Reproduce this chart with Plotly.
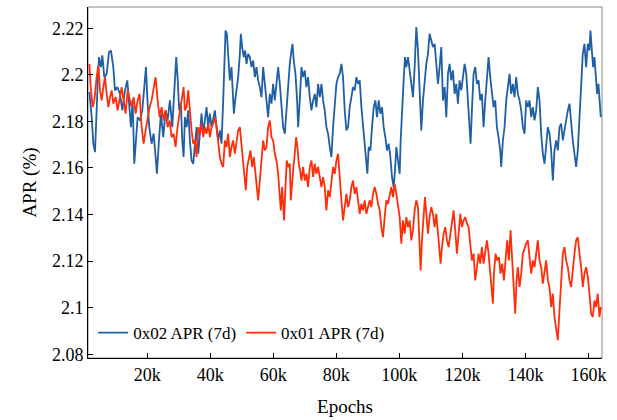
import plotly.graph_objects as go

# ---- data (epochs in thousands, APR in %) ----
blue_x = [1.63, 2.37, 2.89, 3.42, 4.27, 4.69, 5.32, 5.75, 6.38, 7.12, 7.86, 8.49, 9.23, 9.76, 10.50, 11.35,
          12.09, 12.93, 13.67, 14.31, 14.83, 15.36, 15.89, 16.42, 16.95, 17.69, 18.42, 19.06, 19.59, 20.12,
          20.64, 21.38, 22.02, 22.65, 23.07, 23.71, 24.34, 25.08, 25.82, 26.45, 27.19, 27.93, 28.57, 29.20,
          29.62, 30.15, 30.68, 31.10, 31.53, 31.95, 32.48, 33.01, 33.53, 34.06, 34.59, 35.12, 35.65, 36.18,
          36.70, 37.23, 37.76, 38.29, 38.82, 39.34, 39.87, 40.40, 40.93, 41.46, 41.99, 42.51, 43.04, 43.57,
          44.10, 44.42, 44.84, 45.26, 45.68, 46.21, 46.74, 47.06, 47.48, 47.90, 48.33, 48.85, 49.38, 49.70,
          50.12, 50.65, 51.07, 51.50, 52.02, 52.55, 53.08, 53.61, 54.14, 54.66, 55.19, 55.72, 56.25, 56.78,
          57.31, 57.83, 58.36, 58.89, 59.42, 59.95, 60.48, 61.00, 61.53, 62.06, 62.59, 63.12, 63.65, 64.17,
          64.70, 65.23, 65.76, 66.08, 66.50, 67.03, 67.55, 67.87, 68.40, 68.93, 69.46, 69.98, 70.51, 71.04,
          71.57, 72.10, 72.63, 73.15, 73.68, 74.21, 74.74, 75.27, 75.79, 76.32, 76.85, 77.38, 77.91, 78.44,
          78.96, 79.49, 80.02, 80.55, 81.08, 81.61, 82.13, 82.66, 83.19, 83.72, 84.25, 84.77, 85.30, 85.83,
          86.36, 86.89, 87.42, 87.95, 88.47, 89.00, 89.53, 89.85, 90.27, 90.80, 91.33, 91.85, 92.38, 92.91,
          93.44, 93.97, 94.50, 95.02, 95.55, 96.08, 96.61, 97.14, 97.67, 98.19, 98.62, 99.04, 99.57, 100.10,
          100.41, 100.83, 101.36, 101.79, 102.21, 102.74, 103.27, 103.79, 104.32, 104.85, 105.38, 105.91,
          106.43, 106.96, 107.49, 108.02, 108.55, 109.08, 109.60, 110.13, 110.66, 111.19, 111.72, 112.25,
          112.77, 113.30, 113.83, 114.36, 114.89, 115.42, 115.94, 116.47, 117.00, 117.53, 118.06, 118.59,
          119.11, 119.64, 120.17, 120.70, 121.23, 121.76, 122.28, 122.60, 123.02, 123.55, 124.08, 124.61,
          125.14, 125.66, 126.19, 126.72, 127.25, 127.78, 128.31, 128.83, 129.36, 129.89, 130.42, 130.95,
          131.47, 132.00, 132.32, 132.85, 133.38, 133.91, 134.43, 134.96, 135.49, 136.02, 136.55, 137.07,
          137.60, 138.13, 138.66, 139.19, 139.72, 140.24, 140.77, 141.30, 141.83, 142.36, 142.89, 143.41,
          143.94, 144.47, 145.00, 145.53, 146.06, 146.58, 147.11, 147.64, 148.17, 148.70, 149.22, 149.75,
          150.28, 150.81, 151.34, 151.87, 152.39, 152.92, 153.45, 153.98, 154.51, 155.03, 155.56, 156.09,
          156.62, 157.15, 157.68, 158.20, 158.73, 159.26, 159.79, 160.32, 160.63, 161.06, 161.48, 161.90,
          162.32, 162.75, 163.17, 163.59, 163.91]
blue_y = [2.1926, 2.1818, 2.1704, 2.1668, 2.1961, 2.2076, 2.2033, 2.2083, 2.1990, 2.2004, 2.2097, 2.2104,
          2.2033, 2.1933, 2.1947, 2.1918, 2.1847, 2.1933, 2.1976, 2.1847, 2.1775, 2.1890, 2.1618, 2.1718,
          2.1818, 2.1804, 2.1847, 2.1947, 2.2033, 2.1876, 2.1775, 2.1704, 2.1747, 2.1647, 2.1575, 2.1718,
          2.1833, 2.1732, 2.1847, 2.1804, 2.1890, 2.1775, 2.1918, 2.2076, 2.1990, 2.1847, 2.1876, 2.1718,
          2.1647, 2.1818, 2.1775, 2.1847, 2.1718, 2.1632, 2.1618, 2.1718, 2.1775, 2.1661, 2.1747, 2.1833,
          2.1747, 2.1818, 2.1861, 2.1775, 2.1833, 2.1775, 2.1818, 2.1847, 2.1775, 2.1718, 2.1761, 2.1704,
          2.1890, 2.2033, 2.2190, 2.2176, 2.2090, 2.1976, 2.2033, 2.1918, 2.1833, 2.1890, 2.1933, 2.1990,
          2.2090, 2.2176, 2.2119, 2.2076, 2.2104, 2.2047, 2.2090, 2.2076, 2.2033, 2.2061, 2.1990, 2.2033,
          2.1976, 2.1947, 2.1904, 2.2033, 2.1961, 2.1890, 2.1818, 2.1918, 2.1876, 2.1961, 2.1890, 2.1961,
          2.2033, 2.1961, 2.1847, 2.1775, 2.1747, 2.1847, 2.1990, 2.2047, 2.2104, 2.2133, 2.2061, 2.2004,
          2.1890, 2.1775, 2.1890, 2.2033, 2.1990, 2.2019, 2.1947, 2.1990, 2.1904, 2.1847, 2.1890, 2.1918,
          2.1861, 2.1961, 2.1904, 2.1961, 2.1890, 2.1847, 2.1775, 2.1747, 2.1690, 2.1647, 2.1775, 2.1890,
          2.1961, 2.1990, 2.2004, 2.2047, 2.1990, 2.1847, 2.1761, 2.1775, 2.1861, 2.1904, 2.1947, 2.1933,
          2.1990, 2.1961, 2.1976, 2.1861, 2.1775, 2.1690, 2.1632, 2.1575, 2.1690, 2.1675, 2.1775, 2.1861,
          2.1890, 2.1818, 2.1890, 2.1833, 2.1861, 2.1775, 2.1732, 2.1675, 2.1704, 2.1647, 2.1561, 2.1518,
          2.1589, 2.1690, 2.1632, 2.1575, 2.1718, 2.1861, 2.1976, 2.2076, 2.2033, 2.2076, 2.2019, 2.1961,
          2.1904, 2.2033, 2.2205, 2.2104, 2.1961, 2.1761, 2.1890, 2.1976, 2.2047, 2.2090, 2.2176, 2.2147,
          2.2119, 2.2133, 2.2061, 2.1961, 2.2033, 2.2119, 2.1890, 2.1947, 2.1818, 2.2004, 2.2047, 2.1976,
          2.2019, 2.1918, 2.1961, 2.1876, 2.1976, 2.1933, 2.1990, 2.2047, 2.2004, 2.1904, 2.1775, 2.1704,
          2.1847, 2.2004, 2.2033, 2.1961, 2.1976, 2.1890, 2.1918, 2.1775, 2.1890, 2.2004, 2.2076, 2.1990,
          2.1933, 2.1861, 2.1890, 2.1775, 2.1732, 2.1675, 2.1604, 2.1718, 2.1775, 2.1890, 2.1947, 2.2004,
          2.1918, 2.1961, 2.1904, 2.1990, 2.1918, 2.1890, 2.1847, 2.1775, 2.1747, 2.1890, 2.1861, 2.1890,
          2.1818, 2.1861, 2.1804, 2.1847, 2.1947, 2.1890, 2.1747, 2.1661, 2.1618, 2.1718, 2.1775, 2.1747,
          2.1675, 2.1546, 2.1675, 2.1718, 2.1675, 2.1775, 2.1790, 2.1718, 2.1761, 2.1818, 2.1847, 2.1876,
          2.1790, 2.1718, 2.1661, 2.1604, 2.1675, 2.1818, 2.1961, 2.2090, 2.2133, 2.2033, 2.2133, 2.2104,
          2.2190, 2.2119, 2.2033, 2.2076, 2.1990, 2.1918, 2.1961, 2.1890, 2.1818]

red_x = [1.63, 2.05, 2.68, 3.21, 3.95, 4.48, 5.01, 5.54, 6.06, 6.59, 7.12, 7.65, 8.18, 8.71, 9.23, 9.97,
         10.61, 11.24, 11.87, 12.51, 13.14, 13.78, 14.41, 15.04, 15.68, 16.31, 16.95, 17.58, 18.21, 18.85,
         19.48, 20.12, 20.75, 21.38, 22.02, 22.65, 23.29, 23.92, 24.55, 25.19, 25.82, 26.45, 27.09, 27.72,
         28.36, 28.99, 29.62, 30.26, 30.89, 31.53, 31.95, 32.48, 33.01, 33.53, 34.06, 34.59, 35.12, 35.65,
         36.18, 36.70, 37.23, 37.76, 38.29, 38.82, 39.34, 39.87, 40.40, 40.93, 41.46, 41.99, 42.51, 43.04,
         43.57, 44.10, 44.63, 45.16, 45.68, 46.21, 46.74, 47.27, 47.80, 48.33, 48.85, 49.38, 49.91, 50.44,
         50.97, 51.28, 51.71, 52.23, 52.76, 53.29, 53.82, 54.35, 54.88, 55.19, 55.72, 56.25, 56.78, 57.31,
         57.83, 58.36, 58.89, 59.42, 59.95, 60.48, 61.00, 61.53, 62.06, 62.38, 62.80, 63.22, 63.43, 63.86,
         64.28, 64.70, 65.23, 65.55, 65.97, 66.39, 66.81, 67.24, 67.66, 68.08, 68.50, 68.93, 69.46, 69.98,
         70.51, 71.04, 71.57, 72.10, 72.63, 73.15, 73.68, 74.21, 74.74, 75.27, 75.79, 76.32, 76.85, 77.38,
         77.91, 78.44, 78.96, 79.49, 80.02, 80.55, 81.08, 81.61, 82.13, 82.66, 83.19, 83.72, 84.25, 84.77,
         85.30, 85.83, 86.36, 86.89, 87.42, 87.95, 88.47, 89.00, 89.53, 90.06, 90.59, 91.12, 91.64, 92.17,
         92.70, 93.23, 93.76, 94.28, 94.81, 95.34, 95.87, 96.40, 96.93, 97.45, 97.98, 98.51, 99.04, 99.57,
         100.10, 100.62, 101.15, 101.68, 102.21, 102.74, 103.27, 103.79, 104.32, 104.85, 105.38, 105.91,
         106.43, 106.75, 107.17, 107.70, 108.13, 108.55, 109.08, 109.60, 110.13, 110.66, 111.19, 111.72,
         112.25, 112.77, 113.09, 113.51, 114.04, 114.57, 115.10, 115.63, 116.16, 116.68, 117.21, 117.74,
         118.27, 118.80, 119.33, 119.85, 120.38, 120.91, 121.44, 121.97, 122.49, 123.02, 123.55, 124.08,
         124.61, 125.14, 125.66, 126.19, 126.72, 127.25, 127.78, 128.31, 128.83, 129.36, 129.68, 130.00,
         130.52, 131.05, 131.58, 132.11, 132.64, 133.17, 133.69, 134.22, 134.75, 135.28, 135.81, 136.33,
         136.76, 137.18, 137.60, 138.13, 138.66, 139.19, 139.72, 140.24, 140.77, 141.30, 141.83, 142.36,
         142.89, 143.41, 143.94, 144.47, 145.00, 145.53, 146.06, 146.58, 147.11, 147.64, 148.17, 148.70,
         149.22, 149.75, 150.28, 150.81, 151.34, 151.87, 152.39, 152.92, 153.45, 153.98, 154.51, 155.03,
         155.56, 156.09, 156.62, 157.15, 157.68, 158.20, 158.73, 159.26, 159.79, 160.32, 160.85, 161.37,
         161.90, 162.43, 162.96, 163.49, 163.91]
red_y = [2.2047, 2.1947, 2.1861, 2.1890, 2.1990, 2.2040, 2.1933, 2.1890, 2.1947, 2.1990, 2.1918, 2.1861,
         2.1904, 2.1933, 2.1876, 2.1904, 2.1847, 2.1890, 2.1947, 2.1890, 2.1833, 2.1933, 2.1890, 2.1861,
         2.1904, 2.1833, 2.1890, 2.1918, 2.1775, 2.1704, 2.1761, 2.1818, 2.1861, 2.1890, 2.1947, 2.1990,
         2.1890, 2.1818, 2.1861, 2.1804, 2.1847, 2.1775, 2.1804, 2.1732, 2.1747, 2.1690, 2.1775, 2.1833,
         2.1890, 2.1947, 2.1847, 2.1861, 2.1933, 2.1833, 2.1761, 2.1704, 2.1718, 2.1647, 2.1775, 2.1747,
         2.1790, 2.1732, 2.1775, 2.1747, 2.1790, 2.1732, 2.1775, 2.1790, 2.1818, 2.1775, 2.1704, 2.1647,
         2.1618, 2.1604, 2.1718, 2.1690, 2.1747, 2.1647, 2.1690, 2.1718, 2.1661, 2.1704, 2.1761, 2.1775,
         2.1704, 2.1618, 2.1546, 2.1504, 2.1604, 2.1647, 2.1675, 2.1604, 2.1647, 2.1575, 2.1518, 2.1461,
         2.1546, 2.1632, 2.1718, 2.1675, 2.1690, 2.1775, 2.1804, 2.1732, 2.1718, 2.1661, 2.1632, 2.1575,
         2.1461, 2.1418, 2.1518, 2.1403, 2.1375, 2.1518, 2.1632, 2.1604, 2.1618, 2.1461, 2.1546, 2.1604,
         2.1661, 2.1732, 2.1690, 2.1618, 2.1589, 2.1546, 2.1604, 2.1546, 2.1575, 2.1518, 2.1604, 2.1632,
         2.1561, 2.1618, 2.1575, 2.1604, 2.1561, 2.1518, 2.1561, 2.1518, 2.1418, 2.1504, 2.1475, 2.1546,
         2.1604, 2.1575, 2.1632, 2.1661, 2.1546, 2.1461, 2.1375, 2.1432, 2.1489, 2.1432, 2.1461, 2.1518,
         2.1546, 2.1489, 2.1518, 2.1461, 2.1403, 2.1446, 2.1418, 2.1461, 2.1403, 2.1432, 2.1461, 2.1432,
         2.1489, 2.1518, 2.1489, 2.1446, 2.1418, 2.1346, 2.1303, 2.1389, 2.1461, 2.1446, 2.1489, 2.1518,
         2.1475, 2.1532, 2.1489, 2.1446, 2.1389, 2.1275, 2.1375, 2.1318, 2.1389, 2.1346, 2.1375, 2.1289,
         2.1332, 2.1418, 2.1461, 2.1432, 2.1260, 2.1160, 2.1289, 2.1403, 2.1475, 2.1403, 2.1318, 2.1389,
         2.1432, 2.1403, 2.1346, 2.1403, 2.1318, 2.1260, 2.1189, 2.1260, 2.1318, 2.1346, 2.1289, 2.1260,
         2.1318, 2.1375, 2.1418, 2.1332, 2.1232, 2.1318, 2.1403, 2.1346, 2.1375, 2.1389, 2.1361, 2.1346,
         2.1260, 2.1203, 2.1232, 2.1117, 2.1174, 2.1232, 2.1189, 2.1260, 2.1189, 2.1232, 2.1289, 2.1232,
         2.1146, 2.1060, 2.1017, 2.1146, 2.1232, 2.1203, 2.1217, 2.1146, 2.1189, 2.1117, 2.1203, 2.1289,
         2.1203, 2.1332, 2.1203, 2.1103, 2.0974, 2.1117, 2.1174, 2.1089, 2.1146, 2.1232, 2.1260, 2.1275,
         2.1289, 2.1203, 2.1146, 2.1203, 2.1174, 2.1232, 2.1289, 2.1203, 2.1174, 2.1103, 2.1146, 2.1203,
         2.1117, 2.1089, 2.1003, 2.1060, 2.0960, 2.0917, 2.0860, 2.0989, 2.1103, 2.1232, 2.1260, 2.1203,
         2.1174, 2.1117, 2.1089, 2.1174, 2.1232, 2.1289, 2.1303, 2.1232, 2.1174, 2.1089, 2.1146, 2.1174,
         2.1132, 2.1060, 2.0974, 2.0960, 2.1031, 2.1003, 2.1060, 2.0960, 2.1003]

series_names = ["0x02 APR (7d)", "0x01 APR (7d)"]
series_colors = ["#1f5fa6", "#ff2d0a"]

x_tick_vals = [20, 40, 60, 80, 100, 120, 140, 160]
x_tick_text = ["20k", "40k", "60k", "80k", "100k", "120k", "140k", "160k"]
y_tick_vals = [2.08, 2.10, 2.12, 2.14, 2.16, 2.18, 2.20, 2.22]
y_tick_text = ["2.08", "2.1", "2.12", "2.14", "2.16", "2.18", "2.2", "2.22"]

FONT = "Liberation Serif, Times New Roman, serif"

fig = go.Figure()
for xs, ys, name, color in [(blue_x, blue_y, series_names[0], series_colors[0]),
                            (red_x, red_y, series_names[1], series_colors[1])]:
    fig.add_trace(go.Scatter(x=xs, y=ys, mode="lines", name=name,
                             line=dict(color=color, width=1.8)))

# light gray frame (top/right)
fig.add_shape(type="rect", xref="paper", yref="paper", x0=0, y0=0, x1=1, y1=1,
              line=dict(color="#888888", width=1), layer="below")

fig.update_layout(
    width=617, height=420,
    margin=dict(l=88, r=15, t=7, b=62),
    paper_bgcolor="white", plot_bgcolor="white",
    font=dict(family=FONT, size=18, color="black"),
    showlegend=True,
    legend=dict(orientation="h", x=0.01, y=0.02, xanchor="left", yanchor="bottom",
                bgcolor="rgba(0,0,0,0)", font=dict(family=FONT, size=17),
                itemwidth=30, tracegroupgap=0),
    xaxis=dict(range=[1.2, 164.3], tickvals=x_tick_vals, ticktext=x_tick_text,
               ticks="inside", ticklen=5, tickcolor="black", tickwidth=1,
               showline=True, linecolor="black", linewidth=1, showgrid=False, zeroline=False,
               title=dict(text="Epochs", font=dict(size=19), standoff=16),
               tickfont=dict(size=18)),
    yaxis=dict(range=[2.0784, 2.2291], tickvals=y_tick_vals, ticktext=y_tick_text,
               ticks="inside", ticklen=5, tickcolor="black", tickwidth=1,
               showline=True, linecolor="black", linewidth=1, showgrid=False, zeroline=False,
               title=dict(text="APR (%)", font=dict(size=19), standoff=10),
               tickfont=dict(size=18)),
)

fig.write_html("out.html", config={"displayModeBar": False},
               post_script="document.body.style.margin='0px';")
